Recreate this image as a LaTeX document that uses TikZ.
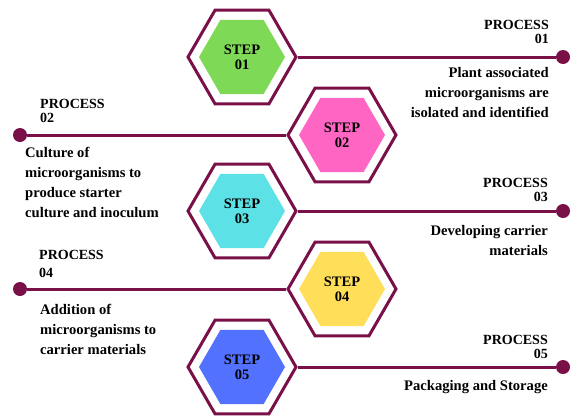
\documentclass[tikz,border=0pt]{standalone}
\usepackage{fontspec}
\setmainfont{Liberation Serif}
\usetikzlibrary{shapes.geometric,positioning}
\definecolor{maroon}{RGB}{122,16,72}
\definecolor{stepgreen}{RGB}{126,217,87}
\definecolor{steppink}{RGB}{255,102,196}
\definecolor{stepcyan}{RGB}{92,225,230}
\definecolor{stepyellow}{RGB}{255,222,89}
\definecolor{stepblue}{RGB}{82,113,255}
\tikzset{
  hexout/.style={regular polygon,regular polygon sides=6,minimum size=108pt,
    draw=maroon,line width=3pt,inner sep=0pt},
  hexin/.style={regular polygon,regular polygon sides=6,minimum size=86pt,
    inner sep=0pt,align=center,font=\bfseries\fontsize{14.5}{15}\selectfont},
  dot/.style={circle,fill=maroon,minimum size=14pt,inner sep=0pt},
  link/.style={maroon,line width=3pt},
  proc/.style={inner sep=0pt,font=\bfseries\fontsize{14}{14}\selectfont},
  desc/.style={inner sep=0pt,font=\bfseries\fontsize{14.6}{20}\selectfont},
}

\begin{document}
\begin{tikzpicture}[x=1pt,y=-1pt]
\useasboundingbox (0,0) rectangle (578,418);
% hexagons
\node[hexout] (h1) at (242,57) {};
\node[hexin,fill=stepgreen] (s1) at (h1) {STEP\\01};
\node[hexout] (h2) at (342,135) {};
\node[hexin,fill=steppink] (s2) at (h2) {STEP\\02};
\node[hexout] (h3) at (242,211) {};
\node[hexin,fill=stepcyan] (s3) at (h3) {STEP\\03};
\node[hexout] (h4) at (342,289) {};
\node[hexin,fill=stepyellow] (s4) at (h4) {STEP\\04};
\node[hexout] (h5) at (242,367) {};
\node[hexin,fill=stepblue] (s5) at (h5) {STEP\\05};
% end dots
\node[dot] (d1) at (563,57) {};
\node[dot] (d2) at (20,135) {};
\node[dot] (d3) at (563,211) {};
\node[dot] (d4) at (20,289) {};
\node[dot] (d5) at (563,367) {};
\draw[link] (h1) -- (d1);
\draw[link] (h2) -- (d2);
\draw[link] (h3) -- (d3);
\draw[link] (h4) -- (d4);
\draw[link] (h5) -- (d5);
% labels
\node[proc,anchor=north east,align=right] (p1) at (549,20) {PROCESS\\01};
\node[desc,anchor=north east,align=right] (t1) at (549,67)
  {Plant associated\\microorganisms are\\isolated and identified};
\node[proc,anchor=north west,align=left] (p2) at (40,99) {PROCESS\\02};
\node[desc,anchor=north west,align=left] (t2) at (25,147)
  {Culture of\\microorganisms to\\produce starter\\culture and inoculum};
\node[proc,anchor=north east,align=right] (p3) at (548,178) {PROCESS\\03};
\node[desc,anchor=north east,align=right] (t3) at (548,225)
  {Developing carrier\\materials};
\node[proc,anchor=north west,align=left] (p4) at (39,250) {PROCESS\\[4pt]04};
\node[desc,anchor=north west,align=left] (t4) at (40,304)
  {Addition of\\microorganisms to\\carrier materials};
\node[proc,anchor=north east,align=right] (p5) at (548,335) {PROCESS\\05};
\node[desc,anchor=north east,align=right] (t5) at (548,380)
  {Packaging and Storage};
\end{tikzpicture}
\end{document}
